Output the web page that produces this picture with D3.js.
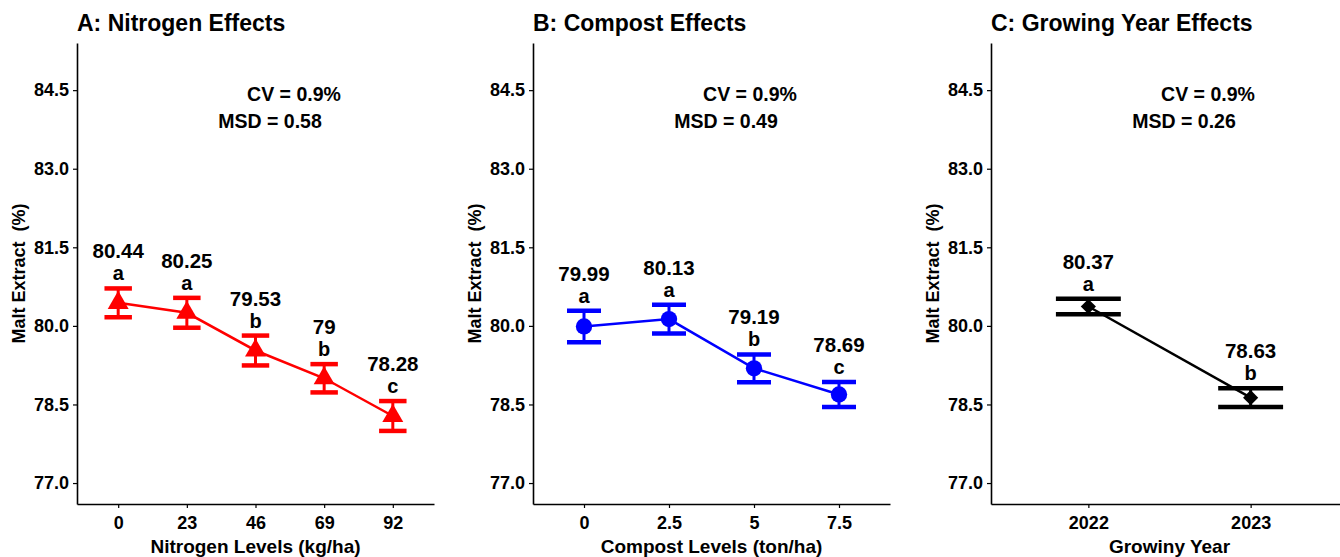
<!DOCTYPE html>
<html>
<head>
<meta charset="utf-8">
<script src="https://cdn.jsdelivr.net/npm/d3@7"></script>
<style>
  body { margin: 0; background: #fff; }
  svg text { font-family: "Liberation Sans", Arial, sans-serif; font-weight: bold; fill: #000; }
</style>
</head>
<body>
<svg id="chart" width="1340" height="557"></svg>
<script>
// data
var nitrogenLevels = ["0", "23", "46", "69", "92"];
var nitrogenMeans = [80.44, 80.25, 79.53, 79, 78.28];
var nitrogenSE = [0.275, 0.285, 0.285, 0.27, 0.285];
var nitrogenLetters = ["a", "a", "b", "b", "c"];

var compostLevels = ["0", "2.5", "5", "7.5"];
var compostMeans = [79.99, 80.13, 79.19, 78.69];
var compostSE = [0.30, 0.275, 0.265, 0.24];
var compostLetters = ["a", "a", "b", "c"];

var yearLevels = ["2022", "2023"];
var yearMeans = [80.37, 78.63];
var yearSE = [0.15, 0.18];
var yearLetters = ["a", "b"];

var yTicks = [77.0, 78.5, 80.0, 81.5, 83.0, 84.5];
var yLimits = [76.6, 85.4];

var panelTitles = ["A: Nitrogen Effects", "B: Compost Effects", "C: Growing Year Effects"];
var xTitles = ["Nitrogen Levels (kg/ha)", "Compost Levels (ton/ha)", "Growiny Year"];
var cvLabels = ["CV = 0.9%", "CV = 0.9%", "CV = 0.9%"];
var msdLabels = ["MSD = 0.58", "MSD = 0.49", "MSD = 0.26"];

var svg = d3.select("#chart");
var plotTop = 43, plotBottom = 504, panelW = 357;

function drawPanel(left, i, levels, means, se, letters, color, shape) {
    var data = levels.map(function (d, k) {
        return { level: d, mean: means[k], se: se[k], letter: letters[k] };
    });

    var x = d3.scalePoint().domain(levels).range([left, left + panelW]).padding(0.6);
    var y = d3.scaleLinear().domain(yLimits).range([plotBottom, plotTop]);
    var capW = x.step() * 0.4;

    var g = svg.append("g");

    // axes
    var ya = g.append("g")
        .attr("transform", "translate(" + left + ",0)")
        .call(d3.axisLeft(y).tickValues(yTicks).tickFormat(d3.format(".1f"))
            .tickSize(4).tickSizeOuter(0).tickPadding(4));
    var xa = g.append("g")
        .attr("transform", "translate(0," + plotBottom + ")")
        .call(d3.axisBottom(x).tickSize(4).tickSizeOuter(0).tickPadding(8));
    [ya, xa].forEach(function (a) {
        a.select(".domain").attr("stroke", "#000").attr("stroke-width", 1.6);
        a.selectAll(".tick line").attr("stroke", "#000").attr("stroke-width", 1.2);
        a.selectAll(".tick text").style("font-size", "18px").attr("fill", "#000");
    });

    // titles
    g.append("text").attr("x", left).attr("y", 31)
        .style("font-size", "23px").text(panelTitles[i]);
    g.append("text").attr("x", left + panelW / 2).attr("y", 553)
        .attr("text-anchor", "middle").style("font-size", "19px").text(xTitles[i]);
    g.append("text")
        .attr("transform", "translate(" + (left - 52) + "," + ((plotTop + plotBottom) / 2) + ") rotate(-90)")
        .attr("text-anchor", "middle").style("font-size", "18px")
        .style("white-space", "pre").text("Malt Extract  (%)");
    g.append("text").attr("x", left + 217).attr("y", 101)
        .attr("text-anchor", "middle").style("font-size", "19.5px").text(cvLabels[i]);
    g.append("text").attr("x", left + 193).attr("y", 128)
        .attr("text-anchor", "middle").style("font-size", "19.5px").text(msdLabels[i]);

    // error bars
    var eb = g.selectAll(".eb").data(data).enter().append("g");
    eb.append("line")
        .attr("x1", function (d) { return x(d.level); })
        .attr("x2", function (d) { return x(d.level); })
        .attr("y1", function (d) { return y(d.mean - d.se); })
        .attr("y2", function (d) { return y(d.mean + d.se); })
        .attr("stroke", color).attr("stroke-width", 3);
    [-1, 1].forEach(function (s) {
        eb.append("line")
            .attr("x1", function (d) { return x(d.level) - capW / 2; })
            .attr("x2", function (d) { return x(d.level) + capW / 2; })
            .attr("y1", function (d) { return y(d.mean + s * d.se); })
            .attr("y2", function (d) { return y(d.mean + s * d.se); })
            .attr("stroke", color).attr("stroke-width", 4.5);
    });

    // connecting line
    g.append("path").datum(data)
        .attr("d", d3.line().x(function (d) { return x(d.level); }).y(function (d) { return y(d.mean); }))
        .attr("fill", "none").attr("stroke", color).attr("stroke-width", 2.5);

    // points
    g.selectAll(".pt").data(data).enter().append("path")
        .attr("d", d3.symbol().type(shape.type).size(shape.size))
        .attr("transform", function (d) {
            return "translate(" + x(d.level) + "," + y(d.mean) + ") rotate(" + shape.rot + ")";
        })
        .attr("fill", color);

    // letters and values
    g.selectAll(".lt").data(data).enter().append("text")
        .attr("x", function (d) { return x(d.level); })
        .attr("y", function (d) { return y(d.mean + d.se) - 8; })
        .attr("text-anchor", "middle").style("font-size", "20px")
        .text(function (d) { return d.letter; });
    g.selectAll(".vl").data(data).enter().append("text")
        .attr("x", function (d) { return x(d.level); })
        .attr("y", function (d) { return y(d.mean + d.se) - 30; })
        .attr("text-anchor", "middle").style("font-size", "20.5px")
        .text(function (d) { return String(d.mean); });
}

drawPanel(77, 0, nitrogenLevels, nitrogenMeans, nitrogenSE, nitrogenLetters, "#ff0000",
    { type: d3.symbolTriangle, size: 190, rot: 0 });
drawPanel(533, 1, compostLevels, compostMeans, compostSE, compostLetters, "#0000ff",
    { type: d3.symbolCircle, size: 210, rot: 0 });
drawPanel(991, 2, yearLevels, yearMeans, yearSE, yearLetters, "#000000",
    { type: d3.symbolSquare, size: 115, rot: 45 });
</script>
</body>
</html>
